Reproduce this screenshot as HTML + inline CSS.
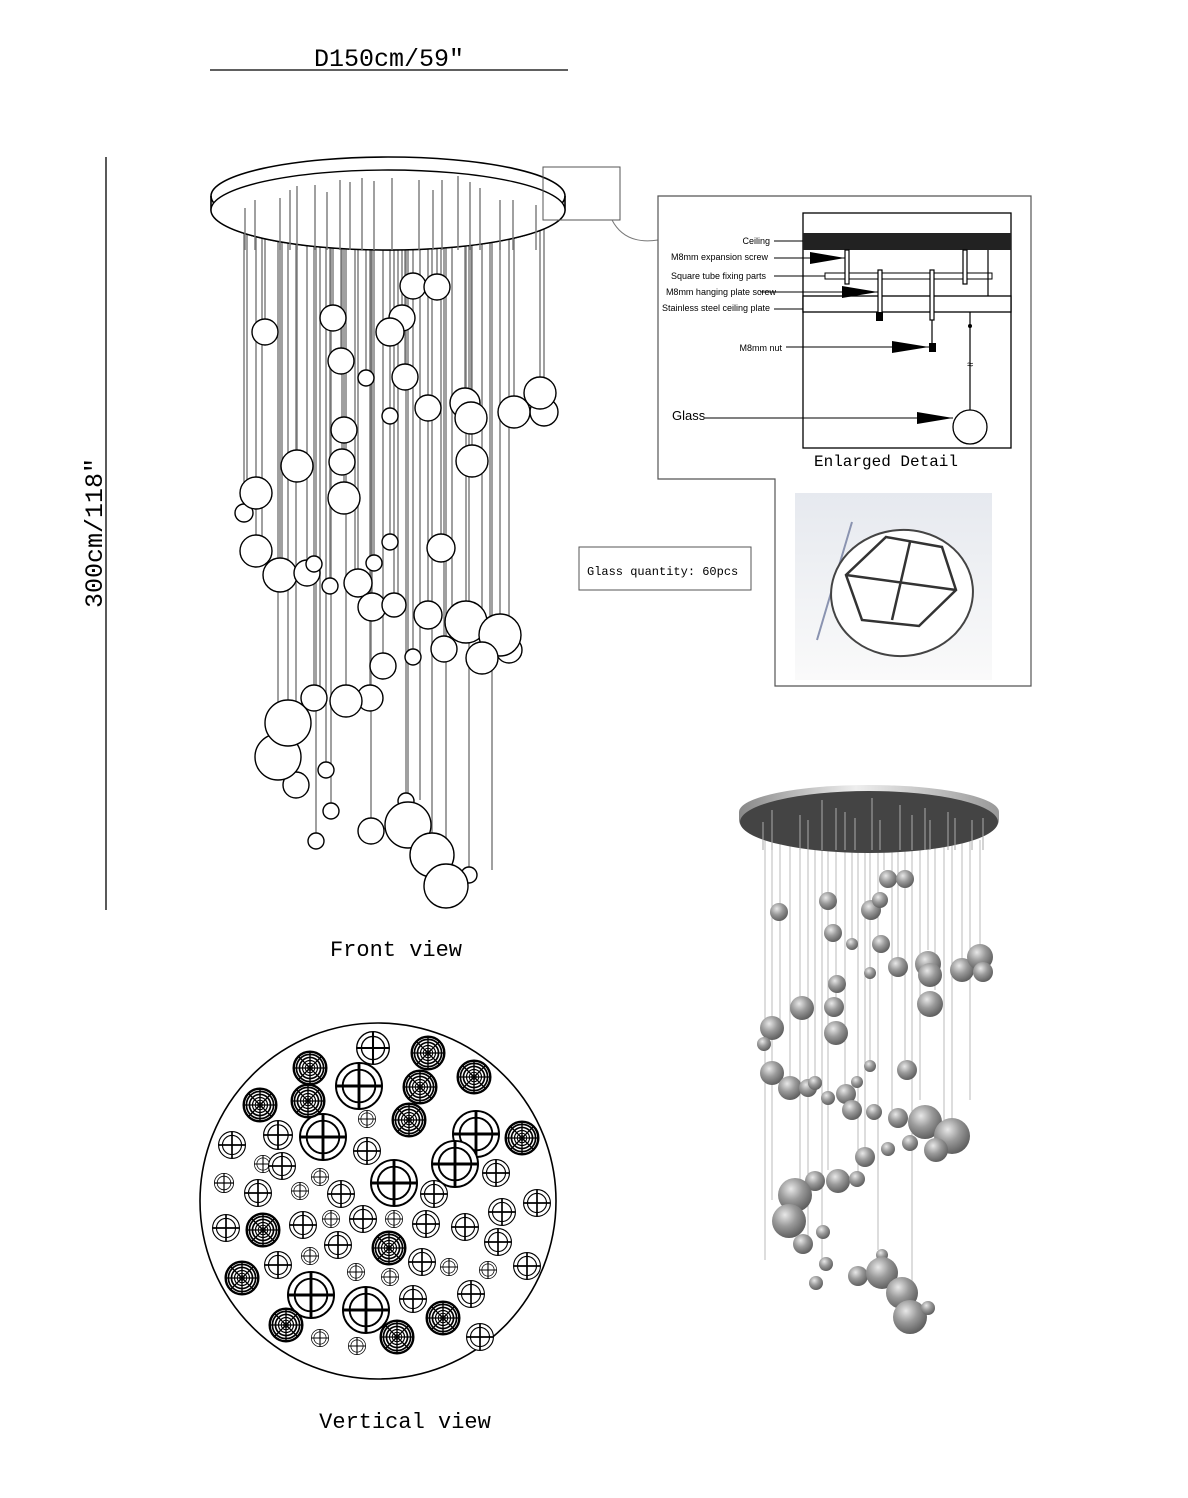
<!DOCTYPE html>
<html><head><meta charset="utf-8"><style>
html,body{margin:0;padding:0;background:#fff}
svg{display:block}
.m{font-family:"Liberation Mono",monospace}
.s{font-family:"Liberation Sans",sans-serif}
</style></head><body>
<svg width="1188" height="1498" viewBox="0 0 1188 1498" xmlns="http://www.w3.org/2000/svg">
<defs>
<symbol id="t" viewBox="-10 -10 20 20" overflow="visible">
<circle r="9.6" fill="#fff" stroke="#000" stroke-width="0.8"/>
<circle r="6.8" fill="none" stroke="#000" stroke-width="0.8"/>
<path d="M-9.6 0H9.6M0 -9.6V9.6" stroke="#000" stroke-width="1.2"/>
</symbol>
<symbol id="w" viewBox="-10 -10 20 20" overflow="visible">
<circle r="9.6" fill="#fff" stroke="#000" stroke-width="1.4"/>
<circle r="8" fill="none" stroke="#000" stroke-width="1"/>
<circle r="6.2" fill="none" stroke="#000" stroke-width="1"/>
<circle r="4.4" fill="none" stroke="#000" stroke-width="0.7"/>
<circle r="2.8" fill="none" stroke="#000" stroke-width="0.6"/>
<circle r="1.4" fill="none" stroke="#000" stroke-width="0.5"/>
<path d="M-9.6 0H9.6M0 -9.6V9.6M-6.8-6.8L6.8 6.8M-6.8 6.8L6.8-6.8" stroke="#000" stroke-width="0.8"/>
</symbol>
<radialGradient id="g" cx="0.38" cy="0.32" r="0.75">
<stop offset="0" stop-color="#e8e8e8"/><stop offset="0.45" stop-color="#9a9a9a"/><stop offset="1" stop-color="#555"/>
</radialGradient>
<linearGradient id="rim" x1="0" x2="1">
<stop offset="0" stop-color="#888"/><stop offset="0.45" stop-color="#eee"/><stop offset="1" stop-color="#999"/>
</linearGradient>
<linearGradient id="bg3" x1="0" y1="0" x2="0" y2="1">
<stop offset="0" stop-color="#e6e9ef"/><stop offset="1" stop-color="#fafafa"/>
</linearGradient>
</defs>

<text x="389" y="66" font-size="25" text-anchor="middle" class="m">D150cm/59″</text>
<line x1="210" y1="70" x2="568" y2="70" stroke="#000" stroke-width="1.3"/>
<line x1="106" y1="157" x2="106" y2="910" stroke="#000" stroke-width="1.3"/>
<text x="0" y="0" font-size="25" text-anchor="middle" class="m" transform="translate(102,533) rotate(-90)">300cm/118″</text>

<g stroke="#777" stroke-width="1.4">
<path d="M413 200V273M437 185V274M265 190V319M333 180V305M390 178V318M402 185V305M341 188V348M366 195V370M405 182V364M540 200V377M514 195V396M544 205V398M465 185V388M471 182V402M428 190V395M390 176V408M344 182V417M297 192V450M342 175V449M472 190V445M256 190V477M344 182V482M244 200V504M256 200V535M280 198V558M307 195V560M314 180V556M330 190V578M390 190V534M374 176V555M441 195V534M358 178V569M372 185V593M394 190V593M428 186V601M466 180V601M500 195V614M509 190V637M444 188V636M482 200V642M383 200V653M413 185V649M314 190V685M346 185V685M370 200V685M288 190V700M278 200V734M296 195V772M326 200V762M331 185V803M316 200V833M371 190V818M406 180V793M408 190V802M432 200V833M446 188V864M469 190V867M247 200V500M282 195V560M320 185V700M355 190V580M420 186V800M452 192V640M490 198V620M398 180V600M262 205V540M492 200V870"/>
</g>
<path d="M211 196 A177 39 0 0 1 565 196 V210 A177 40 0 0 1 211 210 Z" fill="#fff" stroke="none"/>
<ellipse cx="388" cy="196" rx="177" ry="39" fill="none" stroke="#000" stroke-width="1.6"/>
<path d="M211 196V210A177 40 0 0 0 565 210V196" fill="none" stroke="#000" stroke-width="1.6"/>
<ellipse cx="388" cy="210" rx="177" ry="40" fill="#fff" stroke="#000" stroke-width="1.4"/>
<g stroke="#777" stroke-width="1.4">
<path d="M245 208V250M255 200V250M280 198V250M290 190V250M297 186V250M315 185V250M327 192V250M340 180V250M350 182V250M362 178V250M374 181V250M392 178V250M419 180V250M433 190V250M442 180V250M458 176V250M470 182V250M480 188V250M500 200V250M513 200V250M536 205V250"/>
</g>
<g fill="#fff" stroke="#000" stroke-width="1.4">
<circle cx="413" cy="286" r="13"/><circle cx="437" cy="287" r="13"/><circle cx="265" cy="332" r="13"/><circle cx="333" cy="318" r="13"/><circle cx="402" cy="318" r="13"/><circle cx="390" cy="332" r="14"/><circle cx="341" cy="361" r="13"/><circle cx="366" cy="378" r="8"/><circle cx="405" cy="377" r="13"/><circle cx="544" cy="412" r="14"/><circle cx="514" cy="412" r="16"/><circle cx="540" cy="393" r="16"/><circle cx="465" cy="403" r="15"/><circle cx="471" cy="418" r="16"/><circle cx="428" cy="408" r="13"/><circle cx="390" cy="416" r="8"/><circle cx="344" cy="430" r="13"/><circle cx="297" cy="466" r="16"/><circle cx="342" cy="462" r="13"/><circle cx="472" cy="461" r="16"/><circle cx="244" cy="513" r="9"/><circle cx="256" cy="493" r="16"/><circle cx="344" cy="498" r="16"/><circle cx="256" cy="551" r="16"/><circle cx="280" cy="575" r="17"/><circle cx="307" cy="573" r="13"/><circle cx="314" cy="564" r="8"/><circle cx="330" cy="586" r="8"/><circle cx="390" cy="542" r="8"/><circle cx="374" cy="563" r="8"/><circle cx="441" cy="548" r="14"/><circle cx="358" cy="583" r="14"/><circle cx="372" cy="607" r="14"/><circle cx="394" cy="605" r="12"/><circle cx="428" cy="615" r="14"/><circle cx="509" cy="650" r="13"/><circle cx="466" cy="622" r="21"/><circle cx="500" cy="635" r="21"/><circle cx="444" cy="649" r="13"/><circle cx="482" cy="658" r="16"/><circle cx="383" cy="666" r="13"/><circle cx="413" cy="657" r="8"/><circle cx="314" cy="698" r="13"/><circle cx="370" cy="698" r="13"/><circle cx="346" cy="701" r="16"/><circle cx="296" cy="785" r="13"/><circle cx="278" cy="757" r="23"/><circle cx="288" cy="723" r="23"/><circle cx="326" cy="770" r="8"/><circle cx="331" cy="811" r="8"/><circle cx="316" cy="841" r="8"/><circle cx="371" cy="831" r="13"/><circle cx="406" cy="801" r="8"/><circle cx="408" cy="825" r="23"/><circle cx="432" cy="855" r="22"/><circle cx="469" cy="875" r="8"/><circle cx="446" cy="886" r="22"/>
</g>
<text x="396" y="956" font-size="22" text-anchor="middle" class="m">Front view</text>

<rect x="543" y="167" width="77" height="53" fill="none" stroke="#555" stroke-width="1"/>
<path d="M612 220 Q625 245 658 240" fill="none" stroke="#777" stroke-width="1"/>
<path d="M658 196H1031V686H775V479H658Z" fill="none" stroke="#555" stroke-width="1.2"/>
<rect x="803" y="213" width="208" height="235" fill="none" stroke="#000" stroke-width="1.3"/>
<rect x="803" y="233" width="208" height="17" fill="#222"/>
<rect x="825" y="273" width="167" height="6" fill="#fff" stroke="#000" stroke-width="1"/>
<rect x="803" y="296" width="208" height="16" fill="#fff" stroke="#000" stroke-width="1.3"/>
<g stroke="#000" stroke-width="1.2" fill="#fff">
<rect x="845" y="250" width="4" height="34"/><rect x="963" y="250" width="4" height="34"/>
<rect x="878" y="270" width="4" height="50"/><rect x="930" y="270" width="4" height="50"/>
<line x1="988" y1="250" x2="988" y2="296"/>
<line x1="932" y1="320" x2="932" y2="344"/>
<line x1="970" y1="312" x2="970" y2="410"/>
</g>
<rect x="876" y="312" width="7" height="9" fill="#000"/>
<rect x="929" y="343" width="7" height="9" fill="#000"/>
<circle cx="970" cy="326" r="2" fill="#000"/>
<text x="970" y="368" font-size="11" text-anchor="middle" class="s">≈</text>
<circle cx="970" cy="427" r="17" fill="#fff" stroke="#000" stroke-width="1.3"/>
<g font-size="9" text-anchor="end" class="s">
<text x="770" y="244" class="s">Ceiling</text>
<text x="768" y="260" class="s">M8mm expansion screw</text>
<text x="766" y="279" class="s">Square tube fixing parts</text>
<text x="776" y="295" class="s">M8mm hanging plate screw</text>
<text x="770" y="311" class="s">Stainless steel ceiling plate</text>
<text x="782" y="351" class="s">M8mm nut</text>
</g>
<text x="672" y="420" font-size="13" class="s">Glass</text>
<g stroke="#000" stroke-width="1">
<line x1="774" y1="241" x2="803" y2="241"/>
<line x1="774" y1="258" x2="845" y2="258"/>
<line x1="774" y1="276" x2="825" y2="276"/>
<line x1="760" y1="292" x2="878" y2="292"/>
<line x1="774" y1="309" x2="803" y2="309"/>
<line x1="786" y1="347" x2="929" y2="347"/>
<line x1="705" y1="418" x2="953" y2="418"/>
</g>
<g fill="#000">
<path d="M810 252L845 258L810 264Z"/><path d="M842 286L878 292L842 298Z"/><path d="M892 341L929 347L892 353Z"/><path d="M917 412L953 418L917 424Z"/>
</g>
<text x="886" y="466" font-size="16" text-anchor="middle" class="m">Enlarged Detail</text>

<rect x="795" y="493" width="197" height="187" fill="url(#bg3)"/>
<line x1="852" y1="522" x2="817" y2="640" stroke="#8a93b0" stroke-width="2"/>
<ellipse cx="902" cy="593" rx="71" ry="63" transform="rotate(-5 902 593)" fill="#fff" stroke="#444" stroke-width="2"/>
<path d="M886 537L942 547L956 590L919 626L862 620L846 575Z" fill="none" stroke="#333" stroke-width="2.5"/>
<path d="M910 542L892 620M846 575L956 590" stroke="#333" stroke-width="2.5"/>

<rect x="579" y="547" width="172" height="43" fill="#fff" stroke="#555" stroke-width="1"/>
<text x="587" y="575" font-size="12" class="m">Glass quantity: 60pcs</text>

<circle cx="378" cy="1201" r="178" fill="#fff" stroke="#000" stroke-width="1.6"/>
<g>
<use href="#t" x="356" y="1031" width="34" height="34"/><use href="#t" x="335" y="1062" width="48" height="48"/><use href="#t" x="263" y="1120" width="30" height="30"/><use href="#t" x="218" y="1131" width="28" height="28"/><use href="#t" x="299" y="1113" width="48" height="48"/><use href="#t" x="353" y="1137" width="28" height="28"/><use href="#t" x="452" y="1110" width="48" height="48"/><use href="#t" x="431" y="1140" width="48" height="48"/><use href="#t" x="482" y="1159" width="28" height="28"/><use href="#t" x="254" y="1155" width="18" height="18"/><use href="#t" x="268" y="1152" width="28" height="28"/><use href="#t" x="214" y="1173" width="20" height="20"/><use href="#t" x="244" y="1179" width="28" height="28"/><use href="#t" x="291" y="1182" width="18" height="18"/><use href="#t" x="311" y="1168" width="18" height="18"/><use href="#t" x="327" y="1180" width="28" height="28"/><use href="#t" x="370" y="1159" width="48" height="48"/><use href="#t" x="420" y="1180" width="28" height="28"/><use href="#t" x="488" y="1198" width="28" height="28"/><use href="#t" x="523" y="1189" width="28" height="28"/><use href="#t" x="212" y="1214" width="28" height="28"/><use href="#t" x="289" y="1211" width="28" height="28"/><use href="#t" x="322" y="1210" width="18" height="18"/><use href="#t" x="349" y="1205" width="28" height="28"/><use href="#t" x="385" y="1210" width="18" height="18"/><use href="#t" x="412" y="1210" width="28" height="28"/><use href="#t" x="451" y="1213" width="28" height="28"/><use href="#t" x="484" y="1228" width="28" height="28"/><use href="#t" x="324" y="1231" width="28" height="28"/><use href="#t" x="264" y="1251" width="28" height="28"/><use href="#t" x="301" y="1247" width="18" height="18"/><use href="#t" x="347" y="1263" width="18" height="18"/><use href="#t" x="381" y="1268" width="18" height="18"/><use href="#t" x="408" y="1248" width="28" height="28"/><use href="#t" x="440" y="1258" width="18" height="18"/><use href="#t" x="479" y="1261" width="18" height="18"/><use href="#t" x="513" y="1252" width="28" height="28"/><use href="#t" x="287" y="1271" width="48" height="48"/><use href="#t" x="342" y="1286" width="48" height="48"/><use href="#t" x="399" y="1285" width="28" height="28"/><use href="#t" x="457" y="1280" width="28" height="28"/><use href="#t" x="311" y="1329" width="18" height="18"/><use href="#t" x="348" y="1337" width="18" height="18"/><use href="#t" x="466" y="1323" width="28" height="28"/><use href="#t" x="358" y="1110" width="18" height="18"/>
<use href="#w" x="293" y="1051" width="34" height="34"/><use href="#w" x="411" y="1036" width="34" height="34"/><use href="#w" x="457" y="1060" width="34" height="34"/><use href="#w" x="291" y="1084" width="34" height="34"/><use href="#w" x="403" y="1070" width="34" height="34"/><use href="#w" x="243" y="1088" width="34" height="34"/><use href="#w" x="392" y="1103" width="34" height="34"/><use href="#w" x="505" y="1121" width="34" height="34"/><use href="#w" x="246" y="1213" width="34" height="34"/><use href="#w" x="372" y="1231" width="34" height="34"/><use href="#w" x="225" y="1261" width="34" height="34"/><use href="#w" x="269" y="1308" width="34" height="34"/><use href="#w" x="426" y="1301" width="34" height="34"/><use href="#w" x="380" y="1320" width="34" height="34"/>
</g>
<text x="405" y="1428" font-size="22" text-anchor="middle" class="m">Vertical view</text>

<g stroke="#bbb" stroke-width="1">
<path d="M765 830V1260M772 830V1200M780 830V1020M790 830V1080M800 840V1180M808 840V1240M815 840V1080M822 840V1270M828 840V1170M836 840V1000M845 840V1090M852 840V940M858 840V1180M865 840V1150M870 840V1060M878 840V1250M884 840V870M892 840V1110M898 840V960M905 840V1060M912 840V1290M920 840V1100M928 840V950M935 840V990M944 840V1120M952 840V1120M962 840V960M970 840V1100M980 840V945"/>
</g>
<path d="M739 812A130 27 0 0 1 999 812V820A130 32 0 0 1 739 820Z" fill="url(#rim)"/>
<ellipse cx="869" cy="822" rx="129" ry="31" fill="#444"/>
<g stroke="#aaa" stroke-width="1">
<path d="M763 822V850M772 810V850M800 815V850M808 820V850M822 800V850M836 808V850M845 812V850M855 818V850M872 798V850M880 820V850M900 805V850M912 815V850M925 808V850M930 820V850M948 812V850M955 818V850M972 820V850M983 818V850"/>
</g>
<g fill="url(#g)">
<circle cx="779" cy="912" r="9"/><circle cx="828" cy="901" r="9"/><circle cx="833" cy="933" r="9"/><circle cx="852" cy="944" r="6"/><circle cx="871" cy="910" r="10"/><circle cx="880" cy="900" r="8"/><circle cx="888" cy="879" r="9"/><circle cx="905" cy="879" r="9"/><circle cx="881" cy="944" r="9"/><circle cx="870" cy="973" r="6"/><circle cx="898" cy="967" r="10"/><circle cx="928" cy="964" r="13"/><circle cx="930" cy="975" r="12"/><circle cx="962" cy="970" r="12"/><circle cx="980" cy="957" r="13"/><circle cx="983" cy="972" r="10"/><circle cx="837" cy="984" r="9"/><circle cx="802" cy="1008" r="12"/><circle cx="834" cy="1007" r="10"/><circle cx="836" cy="1033" r="12"/><circle cx="930" cy="1004" r="13"/><circle cx="772" cy="1028" r="12"/><circle cx="764" cy="1044" r="7"/><circle cx="870" cy="1066" r="6"/><circle cx="907" cy="1070" r="10"/><circle cx="772" cy="1073" r="12"/><circle cx="790" cy="1088" r="12"/><circle cx="808" cy="1088" r="9"/><circle cx="815" cy="1083" r="7"/><circle cx="828" cy="1098" r="7"/><circle cx="846" cy="1094" r="10"/><circle cx="857" cy="1082" r="6"/><circle cx="852" cy="1110" r="10"/><circle cx="874" cy="1112" r="8"/><circle cx="898" cy="1118" r="10"/><circle cx="925" cy="1122" r="17"/><circle cx="952" cy="1136" r="18"/><circle cx="936" cy="1150" r="12"/><circle cx="910" cy="1143" r="8"/><circle cx="888" cy="1149" r="7"/><circle cx="865" cy="1157" r="10"/><circle cx="838" cy="1181" r="12"/><circle cx="857" cy="1179" r="8"/><circle cx="815" cy="1181" r="10"/><circle cx="795" cy="1195" r="17"/><circle cx="789" cy="1221" r="17"/><circle cx="803" cy="1244" r="10"/><circle cx="823" cy="1232" r="7"/><circle cx="826" cy="1264" r="7"/><circle cx="816" cy="1283" r="7"/><circle cx="858" cy="1276" r="10"/><circle cx="882" cy="1255" r="6"/><circle cx="882" cy="1273" r="16"/><circle cx="902" cy="1293" r="16"/><circle cx="910" cy="1317" r="17"/><circle cx="928" cy="1308" r="7"/>
</g>
</svg>
</body></html>
